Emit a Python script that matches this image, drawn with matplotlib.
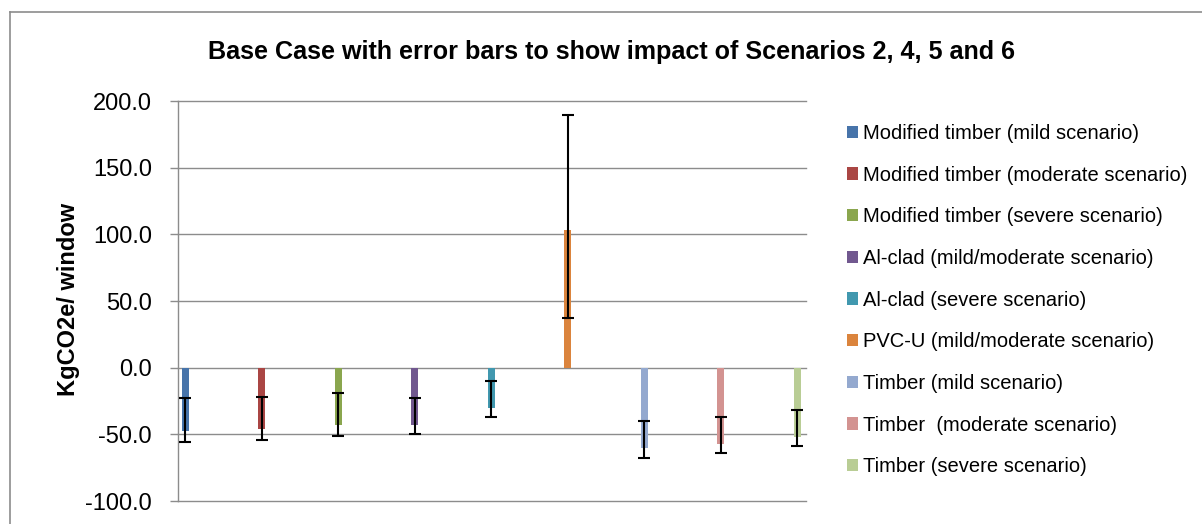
import matplotlib
matplotlib.use("Agg")
import matplotlib.pyplot as plt
import numpy as np
from matplotlib.lines import Line2D

plt.rcParams['font.family'] = ['Liberation Sans', 'DejaVu Sans']

series = [
    "Modified timber (mild scenario)",
    "Modified timber (moderate scenario)",
    "Modified timber (severe scenario)",
    "Al-clad (mild/moderate scenario)",
    "Al-clad (severe scenario)",
    "PVC-U (mild/moderate scenario)",
    "Timber (mild scenario)",
    "Timber  (moderate scenario)",
    "Timber (severe scenario)",
]
values = [-47.3, -45.7, -42.7, -42.7, -30.0, 103.0, -60.0, -57.0, -51.7]
err_high = [-23.0, -21.7, -18.7, -22.5, -10.0, 189.5, -40.2, -37.0, -31.7]
err_low = [-55.5, -54.2, -51.0, -49.8, -37.0, 37.5, -67.5, -64.3, -58.7]
colors = ["#4774AA", "#AA4644", "#8AA64E", "#71588F", "#4198AF",
          "#DB843D", "#94A9CF", "#D39391", "#B9CD95"]
yticks = [-100, -50, 0, 50, 100, 150, 200]
title = "Base Case with error bars to show impact of Scenarios 2, 4, 5 and 6"
ylabel = "KgCO2e/ window"

W, H = 1202, 524
fig = plt.figure(figsize=(W / 100, H / 100), dpi=100)
ax = fig.add_axes([177.7 / W, 1 - 501 / H, 628 / W, 400 / H])

x = np.arange(len(values))
vals = np.array(values)
lo = vals - np.array(err_low)
hi = np.array(err_high) - vals

grid_c = "#8C8C8C"
ax.set_axisbelow(True)
ax.yaxis.grid(True, color=grid_c, linewidth=1.0)
handles = []
for i in range(len(values)):
    b = ax.bar(x[i], vals[i], width=0.092, color=colors[i], label=series[i], zorder=2)
    handles.append(b)
ax.errorbar(x, vals, yerr=[lo, hi], fmt='none', ecolor='black', elinewidth=1.5,
            capsize=4, capthick=1.5, zorder=3)

ax.set_xlim(-0.1, 8.11)
ax.set_ylim(-100, 200)
ax.set_yticks(yticks)
ax.set_yticklabels([f"{v:.1f}" for v in yticks], fontsize=17)
ax.set_xticks([])
for s in ["top", "right", "bottom"]:
    ax.spines[s].set_visible(False)
ax.spines["left"].set_color(grid_c)
ax.spines["left"].set_linewidth(1.0)
ax.tick_params(axis='y', direction='out', length=6, width=1.0, color=grid_c, pad=12.5)
for gl in ax.get_ygridlines():
    gl.set_clip_on(False)

fig.text(611.7 / W, 1 - 59.3 / H, title, ha='center', va='baseline',
         fontsize=18.1, fontweight='bold')
fig.text(68 / W, 1 - 299 / H, ylabel, rotation=90, ha='center', va='center',
         fontsize=17, fontweight='bold')

leg = fig.legend(handles=handles, labels=series, loc='upper left',
                 bbox_to_anchor=(847 / W, 1 - 124 / H), bbox_transform=fig.transFigure,
                 frameon=False, fontsize=14.5, handlelength=0.55, handleheight=0.55,
                 handletextpad=0.25, labelspacing=1.125, borderpad=0, borderaxespad=0)

# chart border
fig.add_artist(Line2D([10 / W, 1], [1 - 11.5 / H, 1 - 11.5 / H], color=grid_c, linewidth=1.2,
                      transform=fig.transFigure))
fig.add_artist(Line2D([10 / W, 10 / W], [0, 1 - 11.5 / H], color=grid_c, linewidth=1.2,
                      transform=fig.transFigure))

fig.savefig("out.png", dpi=100)
